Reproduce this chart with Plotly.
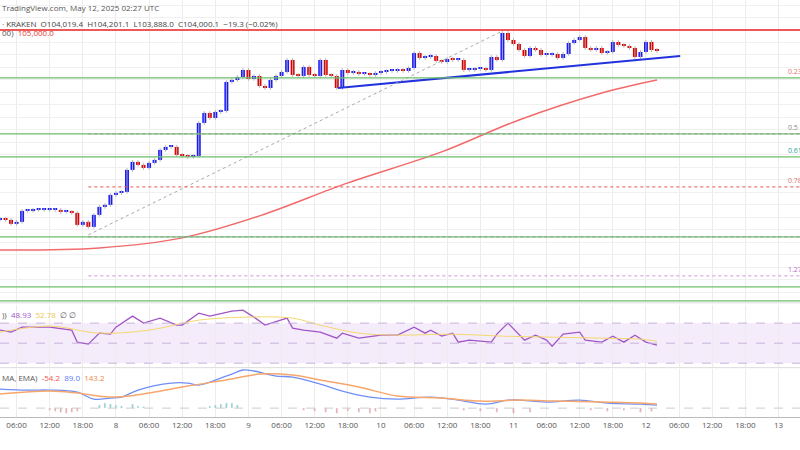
import pandas as pd
import plotly.graph_objects as go

# hourly closes, BTC/USD Kraken, from 7 May 03:00 UTC
start = pd.Timestamp("2025-05-07 03:00")
closes = [97440, 97400, 97240, 97320, 97760, 97760, 97800, 97800, 97800, 97800,
          97800, 97720, 97720, 97680, 97200, 97320, 97120, 97600, 97920, 98000,
          98400, 98480, 98520, 99400, 99720, 99600, 99480, 99680, 99800, 100200,
          100320, 100320, 100000, 99960, 99920, 99960, 101280, 101680, 101480, 101720,
          101760, 102920, 103000, 103120, 103400, 103040, 103160, 102760, 102680, 103000,
          103160, 103320, 103800, 103200, 103160, 103520, 103200, 103160, 103800, 103200,
          103160, 102680, 103400, 103280, 103320, 103240, 103240, 103200, 103280, 103320,
          103360, 103360, 103400, 103360, 103480, 104080, 103880, 103920, 103960, 103760,
          103720, 103840, 103800, 103800, 103400, 103400, 103440, 103440, 103400, 103920,
          103800, 104880, 104600, 104440, 104200, 103960, 104280, 104200, 104000, 104000,
          104040, 103880, 104040, 104480, 104600, 104720, 104280, 104200, 104280, 104080,
          104120, 104520, 104400, 104360, 104280, 103920, 104120, 104520, 104200, 104160]
first_open = 97400

sma_hours = [0, 18, 33, 47, 63, 80, 94, 109, 119]
sma_vals = [96200, 96280, 96680, 97560, 98880, 100120, 101400, 102480, 103000]

rsi_hours = [0, 2, 4, 9, 13, 14, 16, 18, 20, 21, 24, 26, 29, 32, 33, 36, 38, 42, 44, 46,
             48, 52, 53, 55, 58, 61, 62, 65, 69, 72, 75, 77, 78, 80, 82, 83, 85, 89, 90, 92,
             95, 97, 99, 100, 102, 105, 106, 109, 111, 113, 115, 117, 119]
rsi_vals = [63, 61, 66, 66, 63, 51, 49, 60, 59, 66, 77, 70, 75, 68, 68, 80, 77, 82, 83, 76,
            68, 75, 65, 63, 61, 55, 60, 55, 58, 58, 66, 60, 63, 57, 60, 51, 53, 51, 59, 70,
            53, 58, 53, 47, 59, 61, 53, 51, 57, 51, 58, 51, 48]
rsi_ma_hours = [0, 9, 18, 27, 36, 45, 53, 58, 65, 72, 82, 91, 100, 109, 116, 119]
rsi_ma_vals = [61, 67, 60, 63, 73, 76, 75, 68, 60, 58, 59, 57, 56, 55, 54, 52]

macd_hours = [0, 5, 9, 14, 17, 20, 22, 25, 31, 34, 36, 39, 42, 44, 46, 50, 53, 58, 62, 67,
              72, 78, 83, 88, 92, 94, 99, 105, 110, 116, 119]
macd_vals = [570, 540, 540, 480, 270, 300, 330, 540, 750, 750, 690, 840, 1020, 1140, 1110,
             960, 930, 720, 510, 330, 270, 330, 240, 120, 240, 240, 180, 240, 150, 120, 90]
signal_hours = [0, 9, 14, 20, 27, 34, 42, 47, 53, 58, 65, 72, 80, 87, 94, 101, 109, 116, 119]
signal_vals = [420, 510, 450, 330, 450, 660, 870, 1020, 990, 840, 630, 360, 300, 210, 240,
               210, 180, 150, 120]

hist_hours = [9, 10, 11, 12, 13, 14, 18, 19, 20, 21, 22, 24, 25, 26, 38, 39, 40, 41, 42, 43,
              55, 57, 59, 61, 63, 65, 67, 68, 84, 87, 90, 93, 96, 107, 110, 113, 116, 118]
hist_vals = [-60, -90, -120, -150, -120, -90, 90, 150, 120, 90, 60, 120, 60, 40, 60, 90, 120,
             150, 150, 90, -60, -90, -120, -150, -90, -120, -150, -90, -60, -90, -120, -150,
             -120, -60, -90, -60, -120, -90]

fib_green = [103080, 100840, 99920, 96720, 94720, 94160]
fib_dotted = [100840, 96720]
fib_red = 98720
fib_purple = 95160
resistance = 105000
fib_labels = [("0.236", 103080, "#e57373"), ("0.5", 100840, "#888888"),
              ("0.618", 99920, "#26a69a"), ("0.786", 98720, "#e57373"), ("1.272", 95160, "#ba68c8")]
swing_low = ("2025-05-07 19:00", 96800)
swing_high = ("2025-05-10 22:00", 104960)
trend = (("2025-05-09 16:12", 102680), ("2025-05-12 06:12", 103960))

UP, DOWN = "#1a1aff", "#e00000"
HOUR_MS = 3600 * 1000


def hrs(h):
    return [start + pd.Timedelta(hours=v) for v in h]


times = hrs(range(len(closes)))
opens = [first_open] + closes[:-1]
x_end = start + pd.Timedelta(hours=144.9)

fig = go.Figure()

# candles: wicks + bodies
wx, wy = [], []
for t, o, c in zip(times, opens, closes):
    wx += [t, t, None]
    wy += [max(o, c) + 70, min(o, c) - 70, None]
fig.add_trace(go.Scatter(x=wx, y=wy, mode="lines", line=dict(color="#b0b0b0", width=1), yaxis="y"))
fig.add_trace(go.Bar(x=times, base=[min(o, c) for o, c in zip(opens, closes)],
                     y=[max(abs(c - o), 40) for o, c in zip(opens, closes)],
                     width=0.72 * HOUR_MS, marker=dict(color=[UP if c >= o else DOWN for o, c in zip(opens, closes)],
                                                       line_width=0), yaxis="y"))

fig.add_trace(go.Scatter(x=hrs(sma_hours), y=sma_vals, mode="lines", line=dict(color="#f26b6b", width=1.5,
                         shape="spline"), yaxis="y"))
fig.add_trace(go.Scatter(x=[trend[0][0], trend[1][0]], y=[trend[0][1], trend[1][1]], mode="lines",
                         line=dict(color="#2233dd", width=2), yaxis="y"))
fig.add_trace(go.Scatter(x=[swing_low[0], swing_high[0]], y=[swing_low[1], swing_high[1]], mode="lines",
                         line=dict(color="#aaaaaa", width=1, dash="dot"), yaxis="y"))

fig.add_trace(go.Scatter(x=hrs(rsi_hours), y=rsi_vals, mode="lines", line=dict(color="#a155c7", width=1.3),
                         yaxis="y2"))
fig.add_trace(go.Scatter(x=hrs(rsi_ma_hours), y=rsi_ma_vals, mode="lines",
                         line=dict(color="#f5d76e", width=1, shape="spline"), yaxis="y2"))

fig.add_trace(go.Bar(x=hrs(hist_hours), y=hist_vals, width=0.3 * HOUR_MS,
                     marker_color=["#80cbc4" if v > 0 else "#ef9a9a" for v in hist_vals], yaxis="y3"))
fig.add_trace(go.Scatter(x=hrs(macd_hours), y=macd_vals, mode="lines",
                         line=dict(color="#6f8ff7", width=1.3, shape="spline"), yaxis="y3"))
fig.add_trace(go.Scatter(x=hrs(signal_hours), y=signal_vals, mode="lines",
                         line=dict(color="#f7a76c", width=1.5, shape="spline"), yaxis="y3"))

shapes = [dict(type="line", xref="paper", x0=0, x1=1, yref="y", y0=resistance, y1=resistance,
               line=dict(color="#ee2222", width=1.3))]
for p in fib_green:
    shapes.append(dict(type="line", xref="paper", x0=0, x1=1, yref="y", y0=p, y1=p,
                       line=dict(color="#6cbf6c", width=1.3)))
for p in fib_dotted:
    shapes.append(dict(type="line", xref="x", x0=swing_low[0], x1=x_end, yref="y", y0=p, y1=p,
                       line=dict(color="#999999", width=1, dash="dot")))
shapes.append(dict(type="line", xref="x", x0=swing_low[0], x1=x_end, yref="y", y0=fib_red, y1=fib_red,
                   line=dict(color="#ef5350", width=1, dash="dot")))
shapes.append(dict(type="line", xref="x", x0=swing_low[0], x1=x_end, yref="y", y0=fib_purple, y1=fib_purple,
                   line=dict(color="#ce93d8", width=1, dash="dot")))
# RSI band
shapes.append(dict(type="rect", xref="paper", x0=0, x1=1, yref="y2", y0=30, y1=70,
                   fillcolor="rgba(178,120,230,0.15)", line_width=0, layer="below"))
for v in (30, 50, 70):
    shapes.append(dict(type="line", xref="paper", x0=0, x1=1, yref="y2", y0=v, y1=v,
                       line=dict(color="#c9b2d9", width=1, dash="dash")))
shapes.append(dict(type="line", xref="paper", x0=0, x1=1, yref="y3", y0=0, y1=0,
                   line=dict(color="#cccccc", width=1, dash="dash")))
# pane separators
for yy in (0.327, 0.183):
    shapes.append(dict(type="line", xref="paper", x0=0, x1=1, yref="paper", y0=yy, y1=yy,
                       line=dict(color="#dddddd", width=1)))

ann = [
    dict(x=0, y=1.0, xref="paper", yref="paper", xanchor="left", yanchor="top", showarrow=False,
         text="TradingView.com, May 12, 2025 02:27 UTC", font=dict(size=8, color="#555")),
    dict(x=0, y=0.965, xref="paper", yref="paper", xanchor="left", yanchor="top", showarrow=False,
         text="· KRAKEN  O104,019.4  H104,201.1  L103,888.0  C104,000.1  −19.3 (−0.02%)",
         font=dict(size=8, color="#444")),
    dict(x=0, y=0.945, xref="paper", yref="paper", xanchor="left", yanchor="top", showarrow=False,
         text="00)  <span style='color:#e53935'>105,000.0</span>", font=dict(size=8, color="#555")),
    dict(x=0, y=0.318, xref="paper", yref="paper", xanchor="left", yanchor="top", showarrow=False,
         text="))  <span style='color:#a155c7'>48.93</span>  <span style='color:#e8c84a'>52.78</span>  ∅ ∅",
         font=dict(size=8, color="#555")),
    dict(x=0, y=0.178, xref="paper", yref="paper", xanchor="left", yanchor="top", showarrow=False,
         text="MA, EMA)  <span style='color:#ef5350'>-54.2</span>  <span style='color:#5b7cf5'>89.0</span>"
              "  <span style='color:#f08a4b'>143.2</span>",
         font=dict(size=8, color="#555")),
]
for lab, p, col in fib_labels:
    ann.append(dict(x=0.982, y=p, xref="paper", yref="y", xanchor="left", yanchor="bottom", showarrow=False,
                    text=lab, font=dict(size=7, color=col)))

tick_times = pd.date_range("2025-05-07 06:00", "2025-05-13 00:00", freq="6h")
tick_text = [str(t.day) if t.hour == 0 else t.strftime("%H:%M") for t in tick_times]

fig.update_layout(
    width=800, height=450, margin=dict(l=0, r=0, t=0, b=0),
    paper_bgcolor="white", plot_bgcolor="white", showlegend=False, barmode="overlay",
    shapes=shapes, annotations=ann,
    xaxis=dict(range=[start, x_end], anchor="y3",
               tickvals=tick_times, ticktext=tick_text, tickfont=dict(size=8, color="#555"),
               showgrid=True, gridcolor="#ececec", showline=True, linecolor="#bbbbbb", ticks=""),
    yaxis=dict(domain=[0.327, 1], range=[94080, 106200], showticklabels=False, dtick=500,
               gridcolor="#f0f0f0", zeroline=False),
    yaxis2=dict(domain=[0.184, 0.322], range=[26, 88], showticklabels=False, showgrid=False,
                zeroline=False),
    yaxis3=dict(domain=[0.073, 0.18], range=[-270, 1170], showticklabels=False, showgrid=False,
                zeroline=False),
)
fig.write_html("out.html", config={"displayModeBar": False},
               post_script="document.body.style.margin='0';")
